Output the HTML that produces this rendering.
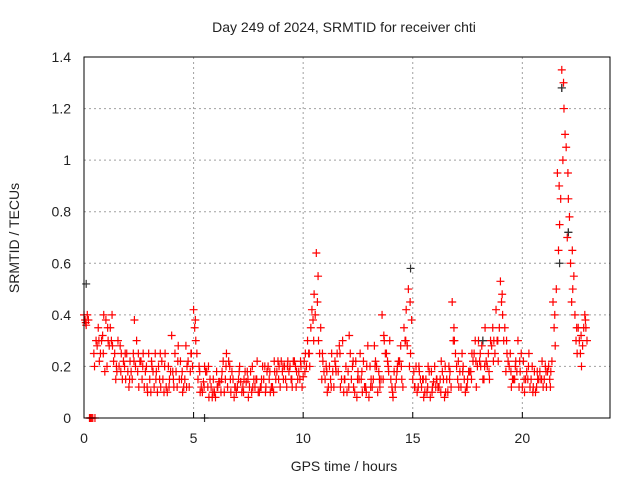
<!DOCTYPE html>
<html><head><meta charset="utf-8"><style>
body{margin:0;background:#fff}
svg text{font-family:"Liberation Sans",sans-serif;font-size:14px;fill:#222}
</style></head><body>
<svg width="640" height="480" xmlns="http://www.w3.org/2000/svg">
<rect width="640" height="480" fill="#fff"/>
<text x="344" y="32" text-anchor="middle">Day 249 of 2024, SRMTID for receiver chti</text>
<g id="grid"></g>
<g id="ticks"></g>
<g id="marks"></g>
<rect x="84" y="57" width="526" height="361" fill="none" stroke="#000"/>
<text x="344" y="471" text-anchor="middle">GPS time / hours</text>
<text transform="translate(19,238) rotate(-90)" text-anchor="middle">SRMTID / TECUs</text>
</svg>
<script>
const xTicks=[0,5,10,15,20];
const yTicks=[0,0.2,0.4,0.6,0.8,1,1.2,1.4];
const yTickLabels=["0","0.2","0.4","0.6","0.8","1","1.2","1.4"];
const seriesA=[0.40,0.38,0.00,0.28,0.30,0.38,
0.35,0.25,0.20,0.22,0.18,0.15,0.30,0.22,0.18,0.15,
0.12,0.20,0.15,0.10,0.32,0.18,0.22,0.15,0.12,0.42,
0.15,0.10,0.18,0.12,0.08,0.14,0.10,0.22,0.15,0.12,
0.10,0.14,0.18,0.12,0.10,0.15,0.20,0.12,0.18,0.22,
0.15,0.20,0.22,0.18,0.16,0.30,0.42,0.64,0.35,0.15,
0.20,0.12,0.18,0.30,0.10,0.15,0.22,0.25,0.12,0.08,
0.15,0.10,0.40,0.25,0.15,0.12,0.22,0.35,0.50,0.15,
0.10,0.12,0.15,0.08,0.20,0.12,0.15,0.10,0.45,0.20,
0.12,0.10,0.18,0.25,0.30,0.15,0.20,0.28,0.42,0.53,
0.35,0.20,0.15,0.30,0.12,0.18,0.15,0.10,0.18,0.15,
0.20,0.45,0.95,1.35,1.05,0.60,0.40,0.30,0.35];
const seriesB=[0.36,0.00,0.00,0.22,0.40,0.30,
0.28,0.18,0.25,0.15,0.22,0.38,0.12,0.25,0.10,0.20,
0.18,0.12,0.25,0.15,0.12,0.28,0.10,0.20,0.25,0.30,
0.10,0.20,0.08,0.15,0.12,0.18,0.25,0.10,0.12,0.20,
0.15,0.08,0.12,0.22,0.15,0.12,0.10,0.18,0.20,0.15,
0.22,0.12,0.18,0.20,0.25,0.20,0.48,0.30,0.22,0.10,
0.25,0.18,0.12,0.15,0.32,0.12,0.18,0.10,0.20,0.15,
0.22,0.12,0.30,0.18,0.08,0.20,0.15,0.42,0.25,0.12,
0.18,0.08,0.20,0.12,0.15,0.22,0.10,0.18,0.30,0.12,
0.20,0.15,0.25,0.12,0.20,0.35,0.15,0.30,0.22,0.40,
0.25,0.12,0.22,0.18,0.10,0.25,0.12,0.15,0.22,0.12,
0.18,0.28,0.75,1.20,0.85,0.50,0.25,0.20,0.35];
const seriesC=[0.38,0.00,0.25,0.35,0.32,0.20,
0.30,0.15,0.28,0.20,0.12,0.25,0.18,0.15,0.20,0.10,
0.25,0.15,0.10,0.20,0.18,0.12,0.15,0.28,0.18,0.35,
0.20,0.14,0.12,0.08,0.18,0.10,0.15,0.20,0.08,0.15,
0.12,0.18,0.10,0.15,0.12,0.20,0.15,0.10,0.22,0.18,
0.12,0.15,0.20,0.15,0.22,0.25,0.38,0.45,0.15,0.20,
0.15,0.22,0.28,0.10,0.18,0.20,0.08,0.15,0.12,0.20,
0.28,0.18,0.15,0.22,0.12,0.15,0.28,0.30,0.20,0.18,
0.12,0.15,0.10,0.18,0.12,0.15,0.08,0.20,0.30,0.15,
0.25,0.12,0.18,0.30,0.22,0.15,0.25,0.35,0.30,0.45,
0.18,0.25,0.15,0.12,0.22,0.15,0.20,0.12,0.15,0.20,
0.15,0.35,0.65,1.00,0.70,0.45,0.30,0.25,0.40];
const seriesD=[0.40,0.00,0.30,0.25,0.18,0.28,
0.22,0.30,0.15,0.25,0.18,0.20,0.22,0.12,0.25,0.18,
0.10,0.22,0.12,0.18,0.25,0.15,0.12,0.22,0.20,0.25,
0.12,0.18,0.15,0.10,0.14,0.22,0.12,0.18,0.10,0.14,
0.18,0.12,0.15,0.10,0.20,0.18,0.12,0.15,0.12,0.20,
0.18,0.22,0.15,0.12,0.20,0.35,0.40,0.25,0.18,0.12,
0.18,0.25,0.15,0.20,0.25,0.10,0.15,0.22,0.28,0.12,
0.20,0.15,0.25,0.30,0.18,0.22,0.12,0.28,0.38,0.20,
0.15,0.10,0.18,0.14,0.12,0.18,0.15,0.12,0.25,0.18,
0.15,0.18,0.22,0.20,0.28,0.22,0.30,0.25,0.35,0.30,
0.22,0.15,0.18,0.25,0.15,0.12,0.18,0.15,0.12,0.18,
0.22,0.50,0.85,1.10,0.78,0.55,0.35,0.28,0.30];
const seriesE=[0.37,0.00,0.20,0.30,0.25,0.35,
0.40,0.20,0.18,0.25,0.15,0.22,0.25,0.20,0.12,0.22,
0.15,0.25,0.20,0.12,0.15,0.22,0.18,0.12,0.25,0.38,
0.18,0.12,0.20,0.10,0.12,0.15,0.20,0.15,0.12,0.18,
0.10,0.15,0.20,0.15,0.12,0.10,0.18,0.22,0.15,0.20,
0.20,0.15,0.12,0.22,0.18,0.25,0.30,0.55,0.25,0.18,
0.12,0.20,0.25,0.15,0.12,0.22,0.15,0.18,0.10,0.12,
0.20,0.15,0.32,0.20,0.10,0.18,0.20,0.30,0.45,0.12,
0.20,0.15,0.12,0.10,0.15,0.10,0.20,0.15,0.35,0.22,
0.18,0.12,0.15,0.22,0.25,0.20,0.18,0.22,0.30,0.48,
0.30,0.18,0.20,0.22,0.15,0.20,0.10,0.18,0.15,0.18,
0.12,0.40,0.90,1.30,0.95,0.65,0.35,0.32,0.38];
const blackTimes=[0.1,5.5,14.9,21.7,21.8,22.1,18.2];
const blackValues=[0.52,0.0,0.58,0.60,1.28,0.72,0.30];
const step=0.2;
const xs=h=>84+h*(526/24);
const ys=v=>418-v*(361/1.4);
const NS="http://www.w3.org/2000/svg";
const grid=document.getElementById('grid'),ticks=document.getElementById('ticks'),marks=document.getElementById('marks');
function mk(tag,attrs,parent){const e=document.createElementNS(NS,tag);for(const k in attrs)e.setAttribute(k,attrs[k]);parent.appendChild(e);return e;}
xTicks.forEach(t=>{
 const x=xs(t);
 if(t>0){const g=mk('line',{x1:x,x2:x,y1:57,y2:418,stroke:'#a0a0a0','stroke-dasharray':'2,3'},grid);
 
 }
 const tx=mk('text',{x:x,y:443,'text-anchor':'middle'},ticks);tx.textContent=t;
 
 
 mk('line',{x1:x,x2:x,y1:418,y2:412,stroke:'#000'},ticks);
});
yTicks.forEach((v,i)=>{
 const y=ys(v);
 if(v>0&&v<1.4){const g=mk('line',{x1:84,x2:610,y1:y,y2:y,stroke:'#a0a0a0','stroke-dasharray':'2,3'},grid);
 
 }
 const tx=mk('text',{x:71,y:y+5,'text-anchor':'end'},ticks);tx.textContent=yTickLabels[i];
 
 
});
function plus(h,v,color){
 const x=xs(h),y=ys(v);
 const p=mk('path',{d:`M${x-4},${y}H${x+4}M${x},${y-4}V${y+4}`,stroke:color,'stroke-width':1.2,fill:'none'},marks);
 
 
}
blackTimes.forEach((h,i)=>plus(h,blackValues[i],'#333'));
seriesA.forEach((v,i)=>plus(i*step,v,'#f00'));
seriesB.forEach((v,i)=>plus(0.1+i*step,v,'#f00'));
seriesC.forEach((v,i)=>plus(0.05+i*step,v,'#f00'));
seriesD.forEach((v,i)=>plus(0.15+i*step,v,'#f00'));
seriesE.forEach((v,i)=>plus(0.08+i*step,v,'#f00'));
blackTimes.forEach((h,i)=>{if(i>3)plus(h,blackValues[i],'#333');});
</script>
</body></html>
